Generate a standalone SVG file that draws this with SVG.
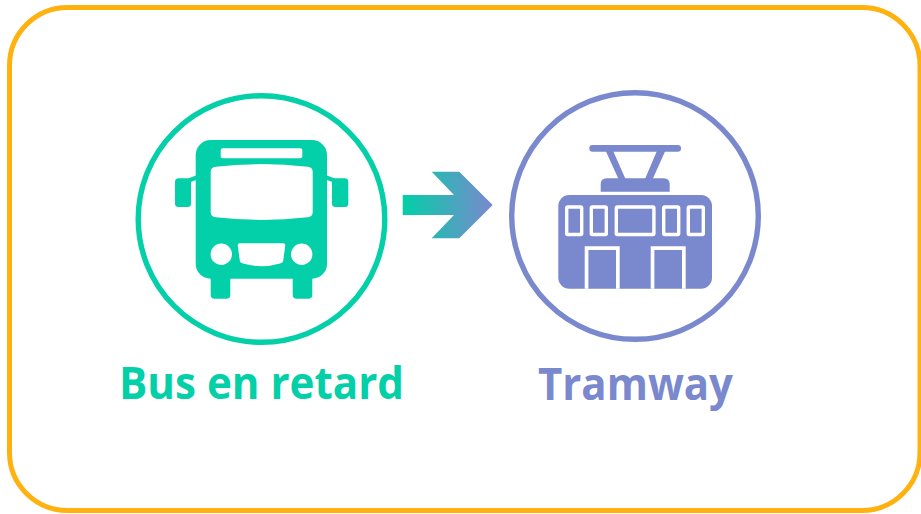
<svg xmlns="http://www.w3.org/2000/svg" width="921" height="514" viewBox="0 0 921 514">
<style>
.lbl{font-family:"Open Sans","Noto Sans","Liberation Sans",sans-serif;font-weight:700;font-size:45px}
.bus{fill:#03cfa8}
.tram{fill:#7a88ce}
.hole{fill:#fff}
.tw{fill:#7a88ce;stroke:#fff;stroke-width:3.4}
.ring{fill:#fff;stroke-width:5.4}
</style>
<defs>
<linearGradient id="ag" x1="0" y1="0" x2="1" y2="0">
<stop offset="0" stop-color="#03cfa8"/>
<stop offset="1" stop-color="#7a88ce"/>
</linearGradient>
</defs>
<rect width="921" height="514" fill="#fff"/>
<rect x="9.500" y="7.500" width="910.500" height="503" rx="58" ry="58" fill="#fff" stroke="#ffb20f" stroke-width="5"/>
<g id="bus-node">
<circle class="ring" cx="261.500" cy="219" r="123.300" stroke="#03cfa8"/>
<rect class="bus" x="195.700" y="140" width="131.300" height="138.700" rx="15"/>
<rect class="bus" x="210.700" y="270" width="19.600" height="28.700" rx="4"/>
<rect class="bus" x="292.700" y="270" width="19.600" height="28.700" rx="4"/>
<rect class="bus" x="175" y="178.300" width="16" height="28.700" rx="3.500"/>
<rect class="bus" x="332" y="178.300" width="16.300" height="28.700" rx="3.500"/>
<path class="bus" d="M188 178.500 196 175.500V180L188 183ZM335 178.500 327 175.500V180L335 183Z"/>
<rect class="hole" x="220.700" y="148.300" width="81.600" height="10" rx="2"/>
<path class="hole" d="M215.700 166.700Q261.700 161.500 307.700 166.700Q312.700 167 312.700 171.700V212.300Q312.700 217 307.700 217.300Q261.700 222.500 215.700 217.300Q210.700 217 210.700 212.300V171.700Q210.700 167 215.700 166.700Z"/>
<circle class="hole" cx="221.300" cy="254.300" r="10.700"/>
<circle class="hole" cx="301.700" cy="254.300" r="10.700"/>
<path class="hole" d="M239.700 243.300H283.300Q285.300 243.300 285.300 245.300L283.300 260Q283 263 280 263.500Q261.500 269 243 263.500Q240 263 239.700 260L237.700 245.300Q237.700 243.300 239.700 243.300Z"/>
</g>
<g id="connectors">
<path id="arrow" d="M402.700 195H454L431.700 171.700H459.300L492.700 205 459.300 238.300H431.700L454 215H402.700Z" fill="url(#ag)"/>
</g>
<g id="tram-node">
<circle class="ring" cx="635" cy="216" r="123.300" stroke="#7a88ce"/>
<rect class="tram" x="589.300" y="145" width="91.700" height="6.700" rx="3.300"/>
<path class="tram" d="M605.300 150H612.700L625.500 179H618.500ZM657.300 150H665.700L652.700 179H645Z"/>
<path class="tram" d="M606.700 178.300H663.700Q669.700 178.300 669.700 184.300V191.700H600.700V184.300Q600.700 178.300 606.700 178.300Z"/>
<rect class="tram" x="558.300" y="195" width="153.700" height="93.700" rx="11"/>
<rect class="tw" x="566.700" y="207" width="15" height="27.500" rx="1"/>
<rect class="tw" x="591.300" y="207" width="15" height="27.500" rx="1"/>
<rect class="tw" x="616.300" y="207" width="37.600" height="27.500" rx="1"/>
<rect class="tw" x="663.700" y="207" width="15" height="27.500" rx="1"/>
<rect class="tw" x="688.300" y="207" width="15" height="27.500" rx="1"/>
<path class="hole" d="M584.700 288.700V246.300H619.700V288.700H616V250H588.400V288.700ZM650.700 288.700V246.300H685.700V288.700H682V250H654.400V288.700Z"/>
</g>
<text class="lbl" x="119" y="399" fill="#03cfa8" textLength="285" lengthAdjust="spacingAndGlyphs">Bus en retard</text>
<text class="lbl" x="538" y="400" fill="#7a88ce" textLength="195" lengthAdjust="spacingAndGlyphs">Tramway</text>
</svg>
